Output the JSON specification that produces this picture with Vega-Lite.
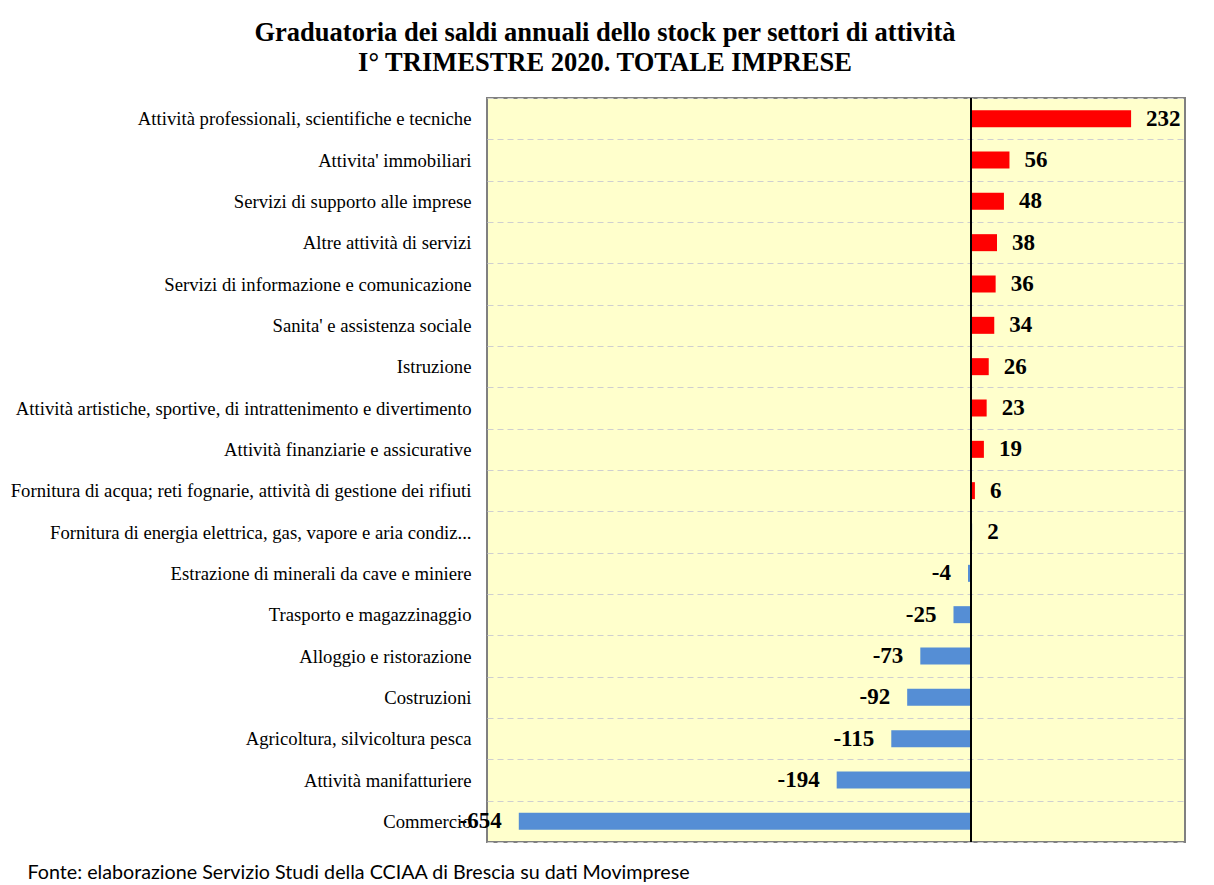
{
  "$schema": "https://vega.github.io/schema/vega-lite/v6.json",
  "width": 698,
  "height": 744,
  "autosize": {"type": "none"},
  "padding": {"left": 487, "top": 98, "right": 29, "bottom": 43},
  "background": "white",
  "title": {
    "text": ["Graduatoria dei saldi annuali dello stock per settori di attività", "I° TRIMESTRE 2020. TOTALE IMPRESE"],
    "font": "Liberation Serif",
    "fontSize": 26.5,
    "fontWeight": "bold",
    "color": "black",
    "anchor": "middle",
    "dx": -231,
    "offset": 13,
    "lineHeight": 30
  },
  "data": {
    "values": [
      {"settore": "Attività professionali, scientifiche e tecniche", "saldo": 232},
      {"settore": "Attivita' immobiliari", "saldo": 56},
      {"settore": "Servizi di supporto alle imprese", "saldo": 48},
      {"settore": "Altre attività di servizi", "saldo": 38},
      {"settore": "Servizi di informazione e comunicazione", "saldo": 36},
      {"settore": "Sanita' e assistenza sociale", "saldo": 34},
      {"settore": "Istruzione", "saldo": 26},
      {"settore": "Attività artistiche, sportive, di intrattenimento e divertimento", "saldo": 23},
      {"settore": "Attività finanziarie e assicurative", "saldo": 19},
      {"settore": "Fornitura di acqua; reti fognarie, attività di gestione dei rifiuti", "saldo": 6},
      {"settore": "Fornitura di energia elettrica, gas, vapore e aria condiz...", "saldo": 2},
      {"settore": "Estrazione di minerali da cave e miniere", "saldo": -4},
      {"settore": "Trasporto e magazzinaggio", "saldo": -25},
      {"settore": "Alloggio e ristorazione", "saldo": -73},
      {"settore": "Costruzioni", "saldo": -92},
      {"settore": "Agricoltura, silvicoltura pesca", "saldo": -115},
      {"settore": "Attività manifatturiere", "saldo": -194},
      {"settore": "Commercio", "saldo": -654}
    ]
  },
  "encoding": {
    "y": {
      "field": "settore",
      "type": "nominal",
      "sort": [
        "Attività professionali, scientifiche e tecniche",
        "Attivita' immobiliari",
        "Servizi di supporto alle imprese",
        "Altre attività di servizi",
        "Servizi di informazione e comunicazione",
        "Sanita' e assistenza sociale",
        "Istruzione",
        "Attività artistiche, sportive, di intrattenimento e divertimento",
        "Attività finanziarie e assicurative",
        "Fornitura di acqua; reti fognarie, attività di gestione dei rifiuti",
        "Fornitura di energia elettrica, gas, vapore e aria condiz...",
        "Estrazione di minerali da cave e miniere",
        "Trasporto e magazzinaggio",
        "Alloggio e ristorazione",
        "Costruzioni",
        "Agricoltura, silvicoltura pesca",
        "Attività manifatturiere",
        "Commercio"
      ],
      "scale": {"paddingInner": 0, "paddingOuter": 0},
      "axis": {
        "title": null,
        "domain": false,
        "ticks": false,
        "labelFont": "Liberation Serif",
        "labelFontSize": 18.7,
        "labelColor": "black",
        "labelPadding": 16,
        "labelLimit": 600,
        "grid": true,
        "tickBand": "extent",
        "gridColor": "#cfcfcf",
        "gridDash": [6, 4],
        "gridWidth": 1
      }
    },
    "x": {
      "field": "saldo",
      "type": "quantitative",
      "scale": {"domain": [-700, 310], "nice": false, "zero": false},
      "axis": {
        "orient": "bottom",
        "labels": false,
        "ticks": false,
        "domain": false,
        "grid": false,
        "title": "Fonte: elaborazione  Servizio Studi della CCIAA di Brescia su dati Movimprese",
        "titleFont": "Lato",
        "titleFontSize": 19.7,
        "titleFontWeight": "normal",
        "titleColor": "black",
        "titleAnchor": "start",
        "titleAlign": "left",
        "titleBaseline": "middle",
        "titleX": -460,
        "titleY": 30
      }
    }
  },
  "layer": [
    {
      "mark": {"type": "bar", "size": 17},
      "encoding": {
        "color": {"condition": {"test": "datum.saldo > 2", "value": "#FF0000"}, "value": "#558ED5"}
      }
    },
    {
      "mark": {"type": "rule", "color": "black", "strokeWidth": 1},
      "encoding": {"x": {"datum": 0}, "y": null}
    },
    {
      "transform": [{"filter": "datum.saldo >= 0"}],
      "mark": {"type": "text", "align": "left", "baseline": "middle", "dx": 15, "font": "Liberation Serif", "fontSize": 23, "fontWeight": "bold", "color": "black", "text": {"expr": "toString(datum.saldo)"}}
    },
    {
      "transform": [{"filter": "datum.saldo < 0"}],
      "mark": {"type": "text", "align": "right", "baseline": "middle", "dx": -17, "font": "Liberation Serif", "fontSize": 23, "fontWeight": "bold", "color": "black", "text": {"expr": "toString(datum.saldo)"}}
    }
  ],
  "config": {
    "view": {"fill": "#FFFFCC", "stroke": "#808080", "strokeWidth": 2}
  }
}
